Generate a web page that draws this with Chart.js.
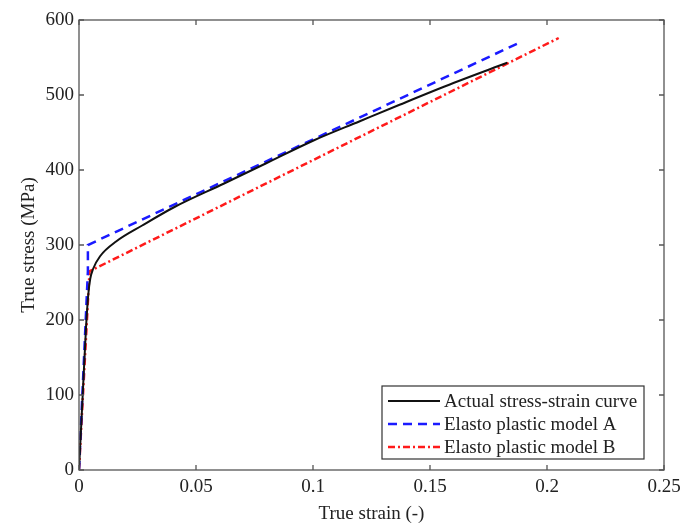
<!DOCTYPE html>
<html lang="en">
  <head>
    <meta charset="UTF-8" />
    <title>True stress-strain</title>
    <script src="https://cdn.jsdelivr.net/npm/chart.js@4.4.0/dist/chart.umd.min.js"></script>
    <style>
      html, body { margin: 0; padding: 0; background: #fff; }
    </style>
  </head>
  <body>
    <canvas id="myChart" width="694" height="529"></canvas>
  </body>
</html>

<script>
  // data (strain, stress in MPa)
  var actualStrain = [0, 0.0015, 0.003, 0.004, 0.0048, 0.006, 0.009, 0.016, 0.027, 0.041, 0.062, 0.08, 0.1, 0.12, 0.137, 0.16, 0.183];
  var actualStress = [0, 95, 190, 235, 255, 268, 285, 305, 326, 351, 382, 409, 439, 465, 487, 516, 543];
  var modelAStrain = [0, 0.0038, 0.0038, 0.189];
  var modelAStress = [0, 265, 300, 571];
  var modelBStrain = [0, 0.0045, 0.205];
  var modelBStress = [0, 265, 576];
  var xTicks = [0, 0.05, 0.1, 0.15, 0.2, 0.25];
  var yTicks = [0, 100, 200, 300, 400, 500, 600];
  var seriesNames = ['Actual stress-strain curve', 'Elasto plastic model A', 'Elasto plastic model B'];

  function pts(xs, ys) {
    var out = [];
    for (var i = 0; i < xs.length; i++) out.push({x: xs[i], y: ys[i]});
    return out;
  }

  var FONT = '"Liberation Serif", "DejaVu Serif", serif';

  // matlab style box, inward ticks and legend inside the axes
  var boxPlugin = {
    id: 'box',
    afterDatasetsDraw: function(chart) {
      var c = chart.ctx, a = chart.chartArea;
      var xs = chart.scales.x, ys = chart.scales.y;
      c.save();
      c.strokeStyle = '#555';
      c.lineWidth = 1.3;
      c.setLineDash([]);
      c.strokeRect(a.left, a.top, a.right - a.left, a.bottom - a.top);
      var t = 5;
      xTicks.forEach(function(v) {
        var p = xs.getPixelForValue(v);
        c.beginPath();
        c.moveTo(p, a.bottom); c.lineTo(p, a.bottom - t);
        c.moveTo(p, a.top); c.lineTo(p, a.top + t);
        c.stroke();
      });
      yTicks.forEach(function(v) {
        var p = ys.getPixelForValue(v);
        c.beginPath();
        c.moveTo(a.left, p); c.lineTo(a.left + t, p);
        c.moveTo(a.right, p); c.lineTo(a.right - t, p);
        c.stroke();
      });

      // legend
      var lx = 382, ly = 386, lw = 262, lh = 73;
      c.fillStyle = '#fff';
      c.fillRect(lx, ly, lw, lh);
      c.strokeStyle = '#333';
      c.lineWidth = 1.2;
      c.strokeRect(lx, ly, lw, lh);
      c.font = '19px ' + FONT;
      c.textBaseline = 'middle';
      chart.data.datasets.forEach(function(ds, i) {
        var yy = ly + 15 + i * 23;
        c.strokeStyle = ds.borderColor;
        c.lineWidth = ds.borderWidth;
        c.setLineDash(ds.borderDash || []);
        c.beginPath();
        c.moveTo(lx + 6, yy); c.lineTo(lx + 58, yy);
        c.stroke();
        c.setLineDash([]);
        c.fillStyle = '#222';
        c.fillText(ds.label, lx + 62, yy + 1);
      });
      c.restore();
    }
  };

  const ctx = document.getElementById('myChart').getContext('2d');
  const myChart = new Chart(ctx, {
    type: 'scatter',
    data: {
      datasets: [
        {
          label: seriesNames[0],
          data: pts(actualStrain, actualStress),
          showLine: true,
          borderColor: '#111',
          borderWidth: 2,
          pointRadius: 0,
          cubicInterpolationMode: 'monotone'
        },
        {
          label: seriesNames[1],
          data: pts(modelAStrain, modelAStress),
          showLine: true,
          borderColor: '#1a1aff',
          borderWidth: 2.5,
          borderDash: [9, 6],
          pointRadius: 0
        },
        {
          label: seriesNames[2],
          data: pts(modelBStrain, modelBStress),
          showLine: true,
          borderColor: '#ff1a1a',
          borderWidth: 2.5,
          borderDash: [7, 3, 2, 3],
          pointRadius: 0
        }
      ]
    },
    options: {
      responsive: false,
      animation: false,
      layout: { padding: { top: 20, right: 30, left: 14, bottom: 0 } },
      plugins: { legend: { display: false }, tooltip: { enabled: false } },
      scales: {
        x: {
          type: 'linear',
          min: 0, max: 0.25,
          afterBuildTicks: function(s) { s.ticks = xTicks.map(function(v) { return {value: v}; }); },
          afterFit: function(s) { s.height = 59; },
          grid: { display: false, drawTicks: false },
          border: { display: false },
          ticks: {
            color: '#222',
            padding: 6,
            font: { family: FONT, size: 19 },
            callback: function(v) { return String(v); }
          },
          title: {
            display: true,
            text: 'True strain (-)',
            color: '#222',
            padding: { top: 6 },
            font: { family: FONT, size: 19 }
          }
        },
        y: {
          min: 0, max: 600,
          afterBuildTicks: function(s) { s.ticks = yTicks.map(function(v) { return {value: v}; }); },
          afterFit: function(s) { s.width = 65; },
          grid: { display: false, drawTicks: false },
          border: { display: false },
          ticks: {
            color: '#222',
            padding: 5,
            font: { family: FONT, size: 19 }
          },
          title: {
            display: true,
            text: 'True stress (MPa)',
            color: '#222',
            padding: { bottom: 0 },
            font: { family: FONT, size: 19 }
          }
        }
      }
    },
    plugins: [boxPlugin]
  });
</script>
